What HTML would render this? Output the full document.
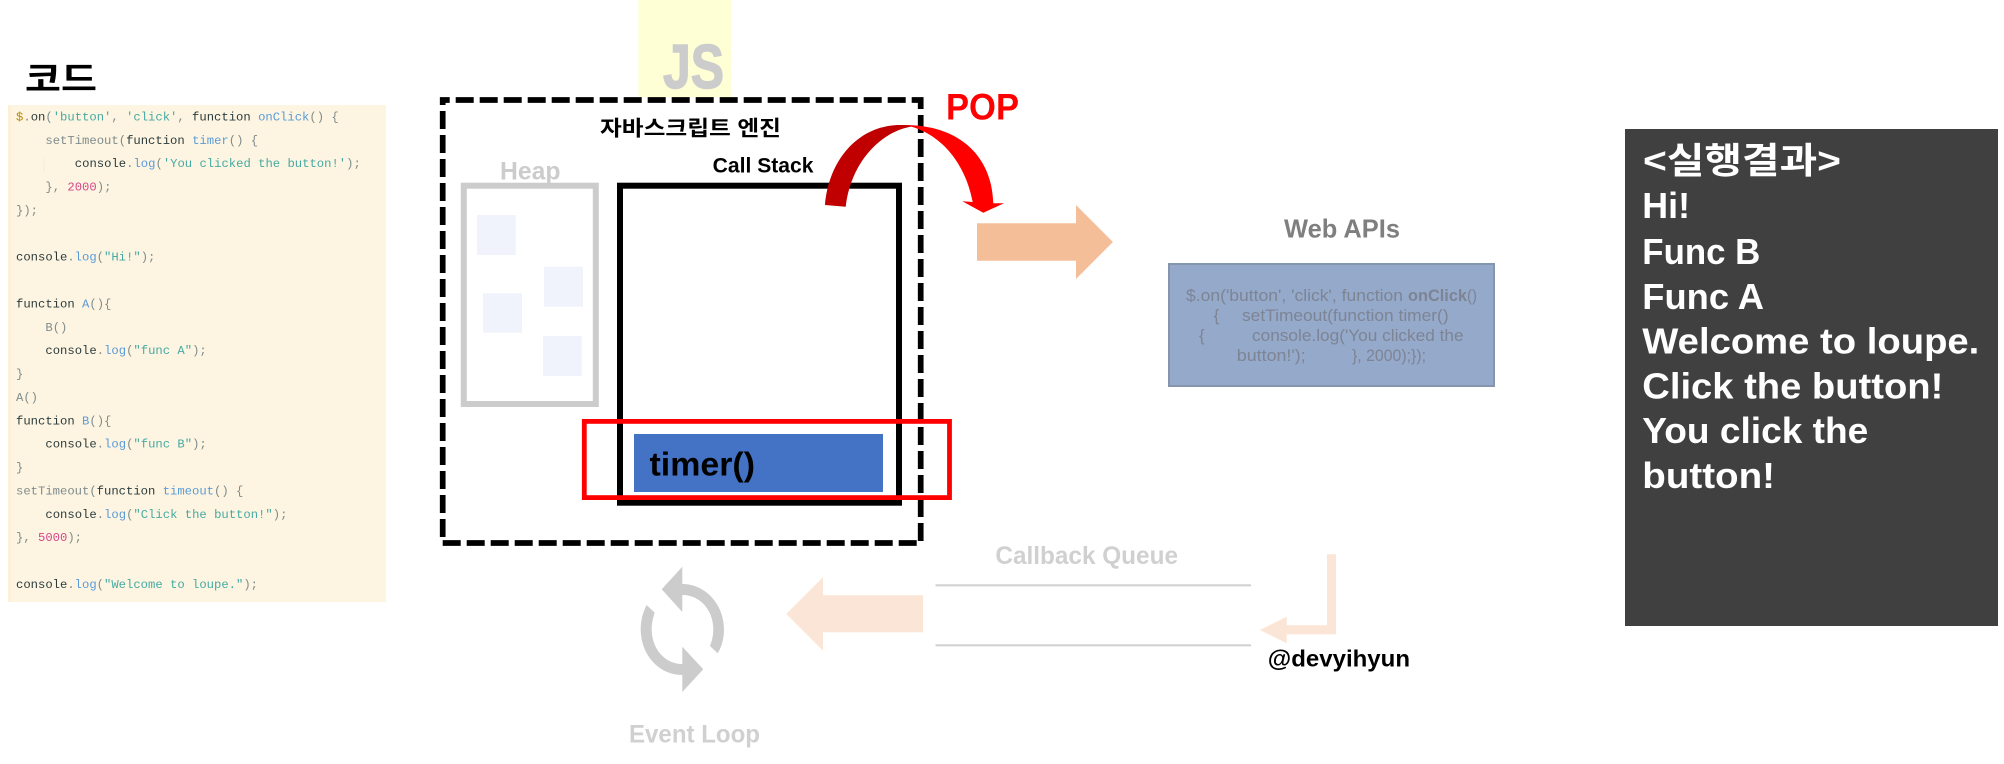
<!DOCTYPE html>
<html lang="ko">
<head>
<meta charset="utf-8">
<title>Call Stack</title>
<style>
html,body{margin:0;padding:0;background:#fff;width:2004px;height:764px;overflow:hidden}
svg{display:block}
text{font-family:"Liberation Sans","Noto Sans CJK KR",sans-serif;white-space:pre}
.b{font-weight:700}
.m{font-family:"Liberation Mono",monospace;font-size:12.23px;fill:#7f8c8c}
.k{fill:#2b3b3b}.f{fill:#5a9bd8}.s{fill:#45aaa2}.n{fill:#d6458a}.d{fill:#b58900}
.w{font-size:36px;font-weight:700;fill:#fff}
.a{font-size:17px;fill:#7d8493}
</style>
</head>
<body>
<svg width="2004" height="764" viewBox="0 0 2004 764" xmlns="http://www.w3.org/2000/svg">
<rect width="2004" height="764" fill="#fff"/>

<!-- code panel -->
<text x="25" y="91" class="b" font-size="34" fill="#000" textLength="72" lengthAdjust="spacingAndGlyphs">코드</text>
<rect x="8" y="105" width="378" height="497" fill="#fdf5e2"/>
<rect x="8" y="105" width="3" height="497" fill="#fcf1d6"/>
<line x1="44" y1="158" x2="44" y2="172" stroke="#e8e2d0" stroke-width="1" stroke-dasharray="1 1"/>
<g transform="translate(0,-1.5)">
<text class="m" x="16" y="122"><tspan class="d">$</tspan>.<tspan class="k">on</tspan>(<tspan class="s">'button'</tspan>, <tspan class="s">'click'</tspan>, <tspan class="k">function</tspan> <tspan class="f">onClick</tspan>() {</text>
<text class="m" x="45.4" y="145.4">setTimeout(<tspan class="k">function</tspan> <tspan class="f">timer</tspan>() {</text>
<text class="m" x="74.8" y="168.7"><tspan class="k">console</tspan>.<tspan class="f">log</tspan>(<tspan class="s">'You clicked the button!'</tspan>);</text>
<text class="m" x="45.4" y="192.1">}, <tspan class="n">2000</tspan>);</text>
<text class="m" x="16" y="215.5">});</text>
<text class="m" x="16" y="262.2"><tspan class="k">console</tspan>.<tspan class="f">log</tspan>(<tspan class="s">"Hi!"</tspan>);</text>
<text class="m" x="16" y="309"><tspan class="k">function</tspan> <tspan class="f">A</tspan>(){</text>
<text class="m" x="45.4" y="332.4">B()</text>
<text class="m" x="45.4" y="355.7"><tspan class="k">console</tspan>.<tspan class="f">log</tspan>(<tspan class="s">"func A"</tspan>);</text>
<text class="m" x="16" y="379.1">}</text>
<text class="m" x="16" y="402.5">A()</text>
<text class="m" x="16" y="425.8"><tspan class="k">function</tspan> <tspan class="f">B</tspan>(){</text>
<text class="m" x="45.4" y="449.2"><tspan class="k">console</tspan>.<tspan class="f">log</tspan>(<tspan class="s">"func B"</tspan>);</text>
<text class="m" x="16" y="472.6">}</text>
<text class="m" x="16" y="496">setTimeout(<tspan class="k">function</tspan> <tspan class="f">timeout</tspan>() {</text>
<text class="m" x="45.4" y="519.3"><tspan class="k">console</tspan>.<tspan class="f">log</tspan>(<tspan class="s">"Click the button!"</tspan>);</text>
<text class="m" x="16" y="542.7">}, <tspan class="n">5000</tspan>);</text>
<text class="m" x="16" y="589.4"><tspan class="k">console</tspan>.<tspan class="f">log</tspan>(<tspan class="s">"Welcome to loupe."</tspan>);</text>
</g>

<!-- JS badge -->
<rect x="638.4" y="0" width="92.6" height="97" fill="#ffffd5"/>
<text x="663" y="88" class="b" font-size="62" fill="#ccc" stroke="#ccc" stroke-width="1.5" textLength="61" lengthAdjust="spacingAndGlyphs">JS</text>

<!-- engine -->
<rect x="442.7" y="100" width="478" height="443" fill="none" stroke="#000" stroke-width="5.7" stroke-dasharray="18 6" stroke-dashoffset="11"/>
<text x="600" y="135.5" class="b" font-size="21" fill="#000" textLength="181" lengthAdjust="spacingAndGlyphs">자바스크립트 엔진</text>
<text x="712.7" y="172.7" class="b" font-size="21" fill="#000" textLength="100.8" lengthAdjust="spacingAndGlyphs">Call Stack</text>
<text x="500" y="179.3" class="b" font-size="25" fill="#ccc" textLength="60.5" lengthAdjust="spacingAndGlyphs">Heap</text>

<!-- heap -->
<rect x="463.8" y="185.7" width="132" height="218.3" fill="none" stroke="#ccc" stroke-width="6"/>
<rect x="477" y="215" width="38.8" height="40" fill="#f0f3fb"/>
<rect x="543.9" y="266.7" width="39.1" height="40" fill="#f0f3fb"/>
<rect x="483" y="293.3" width="39" height="39.4" fill="#f0f3fb"/>
<rect x="543" y="336" width="38.8" height="40" fill="#f0f3fb"/>

<!-- call stack -->
<rect x="620" y="185.7" width="279" height="317" fill="none" stroke="#000" stroke-width="6"/>
<rect x="634" y="434" width="249" height="58" fill="#4472c4"/>
<text x="649.5" y="475.7" class="b" font-size="33" fill="#000" textLength="105.5" lengthAdjust="spacingAndGlyphs">timer()</text>
<rect x="584.3" y="421.4" width="365.2" height="76.2" fill="none" stroke="#f00" stroke-width="4.8"/>

<!-- POP arrow -->
<path d="M825 205 C829 158 860 125 900 125 C906 125 912 125.3 917 126 C884 128 851 160 845.7 206.7 Z" fill="#c00000"/>
<path d="M905 125 C958 125 992 155 993.3 203.3 L1004 203.3 L983.3 212.7 L962.3 201.3 L972.7 202 C966 166 943 133 905 125 Z" fill="#f00"/>
<text x="946" y="119.3" class="b" font-size="37" fill="#f00" textLength="73" lengthAdjust="spacingAndGlyphs">POP</text>

<!-- orange arrow -->
<polygon points="977,223.3 1076,223.3 1076,205 1112.9,242 1076,279 1076,260.7 977,260.7" fill="#f4be98"/>

<!-- web apis -->
<text x="1284" y="237.3" class="b" font-size="26" fill="#7f7f7f" textLength="116" lengthAdjust="spacingAndGlyphs">Web APIs</text>
<rect x="1169" y="264" width="325" height="122" fill="#95a9cb" stroke="#8595ae" stroke-width="2"/>
<text class="a" x="1186" y="301" textLength="217" lengthAdjust="spacingAndGlyphs">$.on('button', 'click', function</text>
<text class="a b" x="1408" y="301" textLength="59" lengthAdjust="spacingAndGlyphs">onClick</text>
<text class="a" x="1467" y="301" textLength="10" lengthAdjust="spacingAndGlyphs">()</text>
<text class="a" x="1213.6" y="321">{</text>
<text class="a" x="1242" y="321" textLength="206.6" lengthAdjust="spacingAndGlyphs">setTimeout(function timer()</text>
<text class="a" x="1199" y="341">{</text>
<text class="a" x="1252" y="341" textLength="211.6" lengthAdjust="spacingAndGlyphs">console.log('You clicked the</text>
<text class="a" x="1236.8" y="361" textLength="68.9" lengthAdjust="spacingAndGlyphs">button!');</text>
<text class="a" x="1352" y="361" textLength="74" lengthAdjust="spacingAndGlyphs">}, 2000);});</text>

<!-- callback queue -->
<text x="995.4" y="564" class="b" font-size="25" fill="#d0d0d0" textLength="182.6" lengthAdjust="spacingAndGlyphs">Callback Queue</text>
<rect x="935.5" y="584.3" width="315.5" height="2" fill="#d0d0d0"/>
<rect x="935.5" y="644.3" width="315.5" height="2" fill="#d0d0d0"/>
<polygon points="1327,554.3 1336,554.3 1336,634.3 1286.7,634.3 1286.7,643.3 1259.8,630 1286.7,616.7 1286.7,625.3 1327,625.3" fill="#fbe5d6"/>
<text x="1267.8" y="666.7" class="b" font-size="23" fill="#000" textLength="142.2" lengthAdjust="spacingAndGlyphs">@devyihyun</text>

<!-- left arrow -->
<polygon points="923,595.3 823,595.3 823,577.3 786.3,614 823,650.7 823,632.3 923,632.3" fill="#fbe5d6"/>

<!-- event loop -->
<path d="M682.3 566.7 L661.7 589.3 L682.3 612 L682.3 595 C700 595 713.3 610 713.3 629.3 C713.3 635 712 641 710 646 L717.7 653.3 C722 646 724 638 724 629.3 C724 604 705 584 682.3 584 Z" fill="#ccc"/>
<path d="M682.3 692 L703.3 669.3 L682.3 646.7 L682.3 664 C665 664 651.7 649 651.7 629.3 C651.7 623 653 617.5 654.7 612.7 L646.7 605 C643 612 640.7 620 640.7 629.3 C640.7 655 659 675 682.3 675 Z" fill="#ccc"/>
<text x="629" y="742.7" class="b" font-size="25" fill="#d0d0d0" textLength="131" lengthAdjust="spacingAndGlyphs">Event Loop</text>

<!-- result panel -->
<rect x="1625" y="129" width="373" height="497" fill="#404040"/>
<text class="w" x="1643" y="173" textLength="198" lengthAdjust="spacingAndGlyphs">&lt;실행결과&gt;</text>
<text class="w" x="1642.3" y="218.2" textLength="47.7" lengthAdjust="spacingAndGlyphs">Hi!</text>
<text class="w" x="1642.3" y="263.8" textLength="118" lengthAdjust="spacingAndGlyphs">Func B</text>
<text class="w" x="1642.3" y="308.8" textLength="121.7" lengthAdjust="spacingAndGlyphs">Func A</text>
<text class="w" x="1642.3" y="353.4" textLength="337" lengthAdjust="spacingAndGlyphs">Welcome to loupe.</text>
<text class="w" x="1642.3" y="398.4" textLength="301" lengthAdjust="spacingAndGlyphs">Click the button!</text>
<text class="w" x="1642.3" y="443" textLength="226" lengthAdjust="spacingAndGlyphs">You click the</text>
<text class="w" x="1642.3" y="488" textLength="132.7" lengthAdjust="spacingAndGlyphs">button!</text>
</svg>
</body>
</html>
